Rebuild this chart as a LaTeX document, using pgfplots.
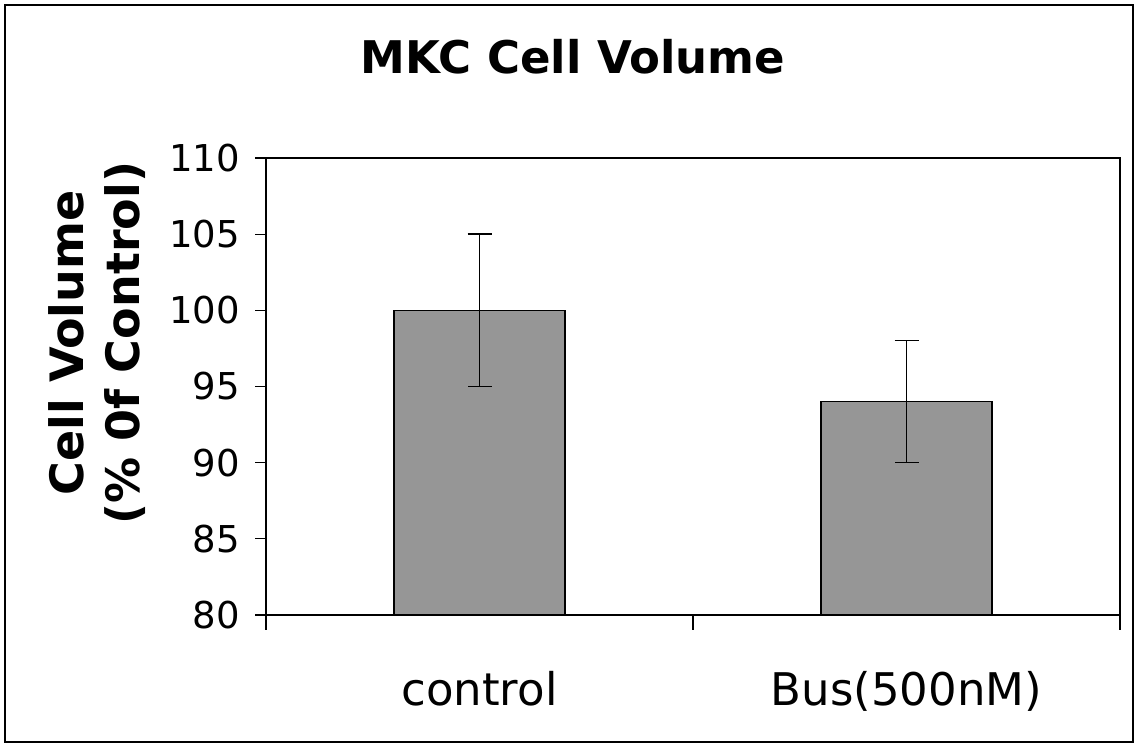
\documentclass[border=0pt]{standalone}
\usepackage{fontspec}
\setmainfont{DejaVu Sans}
\usepackage{pgfplots}
\pgfplotsset{compat=1.18}
\definecolor{barfill}{RGB}{150,150,150}
\begin{document}
\begin{tikzpicture}[x=1pt,y=1pt]
\useasboundingbox (0,0) rectangle (569,374);
\draw[line width=0.7pt] (2.5,3) rectangle (566.5,371.5);
\node[font=\fontsize{22.5}{27}\selectfont\bfseries] at (286.5,345.5) {MKC Cell Volume};
\begin{axis}[
  at={(133pt,66.5pt)}, anchor=south west,
  width=427pt, height=228.5pt, scale only axis,
  xmin=-0.5, xmax=1.5, ymin=80, ymax=110,
  ytick={80,85,90,95,100,105,110},
  xtick={0,1}, xticklabels={control,Bus(500nM)},
  minor xtick={-0.5,0.5,1.5},
  major x tick style={draw=none},
  tick align=outside,
  major tick length=5.5pt, minor tick length=7.5pt,
  axis line style={line width=0.7pt},
  tick style={line width=0.6pt, black},
  ytick pos=left, xtick pos=bottom,
  /pgf/number format/assume math mode=true,
  xticklabel style={font=\fontsize{22.5}{26}\selectfont, yshift=-19pt},
  yticklabel style={font=\fontsize{18.5}{22}\selectfont, xshift=-4pt},
  ylabel={\bfseries Cell Volume\\\bfseries (\% 0f Control)},
  ylabel style={font=\fontsize{23}{28}\selectfont, align=center, at={(axis description cs:-0.1973,0.595)}, anchor=center},
  clip=false,
]
\addplot[ybar, bar width=0.4, fill=barfill, draw=black, line width=0.7pt,
  error bars/.cd, y dir=both, y explicit,
  error bar style={line width=0.7pt, black},
  error mark options={rotate=90, mark size=6pt, line width=0.7pt, black}]
  coordinates {(0,100) +- (0,5) (1,94) +- (0,4)};
\end{axis}
\end{tikzpicture}
\end{document}
